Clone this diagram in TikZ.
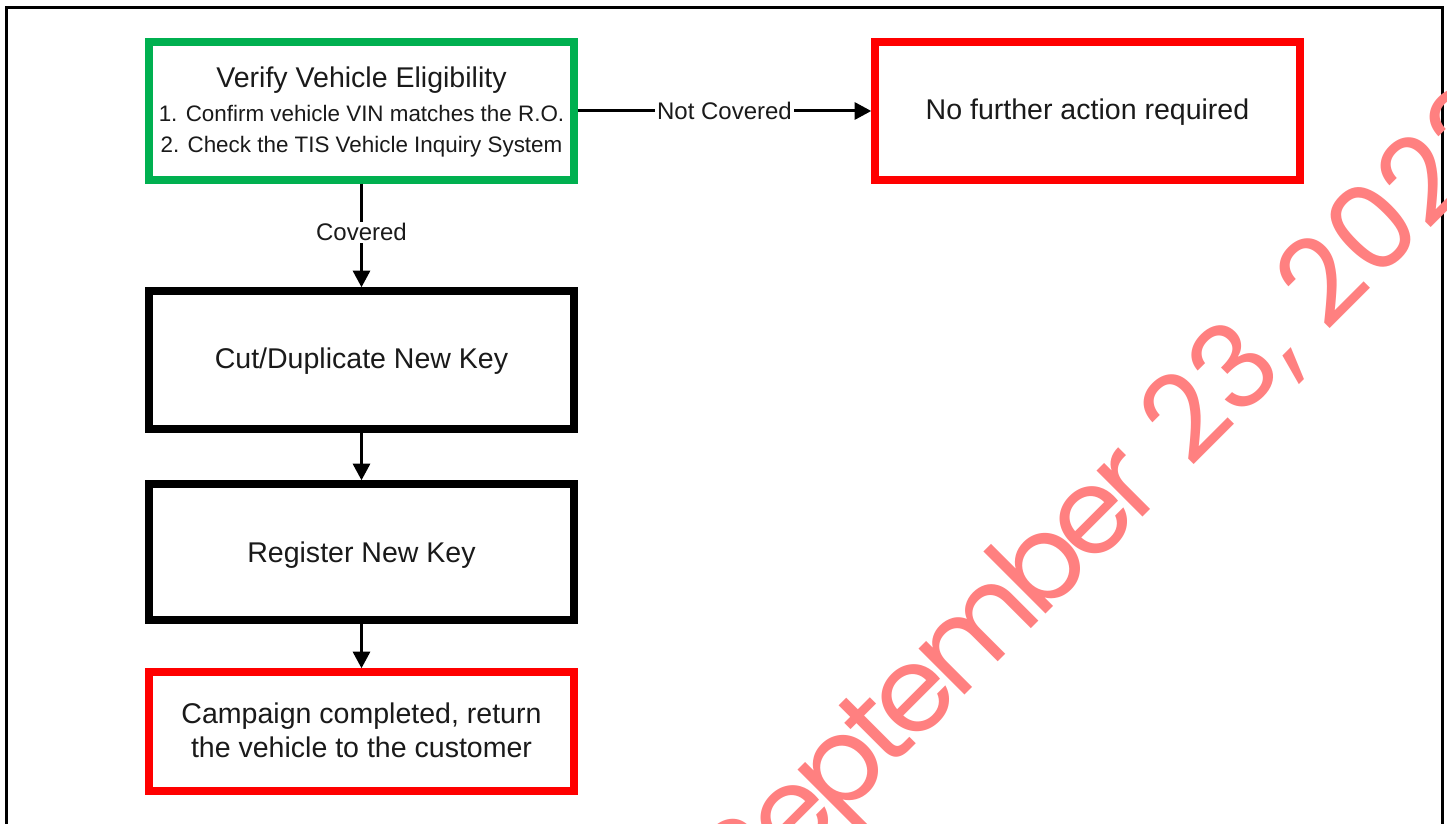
\documentclass[tikz,border=0pt]{standalone}
\usepackage{fontspec}
\setmainfont{Liberation Sans}
\newfontfamily\wmfont{Poppins}
\newfontfamily\wmtight[LetterSpace=-7]{Poppins}
\usetikzlibrary{arrows.meta}
\definecolor{boxgreen}{RGB}{0,176,80}
\definecolor{boxred}{RGB}{255,0,0}
\definecolor{wmred}{RGB}{255,128,128}
\definecolor{txt}{RGB}{26,26,26}
\begin{document}
\begin{tikzpicture}[x=0.75pt,y=-0.75pt,
  box/.style={draw, line width=5.6pt, minimum width=318.75pt, inner sep=0pt, fill=white},
  big/.style={text=txt, inner sep=0pt, font=\fontsize{21.4}{25}\selectfont, anchor=base},
  small/.style={text=txt, inner sep=0pt, font=\fontsize{16.8}{20}\selectfont, anchor=base},
  flow/.style={line width=2.25pt, -{Triangle[width=12.8pt,length=12.5pt]}},
  lbl/.style={fill=white, text=txt, inner sep=1.5pt, font=\fontsize{18}{21}\selectfont}]
\useasboundingbox (0,0) rectangle (1447,824);
\clip (0,0) rectangle (1447,824);
\fill[white] (0,0) rectangle (1447,824);
% frame
\draw[line width=2.25pt] (6,8) rectangle (1442,900);
% boxes
\node[box, draw=boxgreen, minimum height=103.5pt] (verify) at (361.5,111) {};
\node[box, draw=boxred, minimum height=103.5pt] (nofurther) at (1087.5,111) {};
\node[box, draw=black, minimum height=103.5pt] (cut) at (361.5,360) {};
\node[box, draw=black, minimum height=102pt] (register) at (361.5,552) {};
\node[box, draw=boxred, minimum height=89.25pt] (campaign) at (361.5,731.5) {};
% texts
\node[big] (verifyT) at (361.5,88) {Verify Vehicle Eligibility};
\node[small] (verifyA) at (361.5,122) {1. Confirm vehicle VIN matches the R.O.};
\node[small] (verifyB) at (361.5,152) {2. Check the TIS Vehicle Inquiry System};
\node[big] (nofurtherT) at (1087.5,120) {No further action required};
\node[big] (cutT) at (361.5,368) {Cut/Duplicate New Key};
\node[big] (registerT) at (361.5,562) {Register New Key};
\node[big] (campaignA) at (361.5,723) {Campaign completed, return};
\node[big] (campaignB) at (361.5,757) {the vehicle to the customer};
% connectors
\draw[flow] (verify.east) -- node[lbl] (nc) {Not Covered} (nofurther.west);
\draw[flow] (verify.south) -- node[lbl, pos=0.47] (cov) {Covered} (cut.north);
\draw[flow] (cut.south) -- (register.north);
\draw[flow] (register.south) -- (campaign.north);
% watermark
\node[wmred, rotate=45, anchor=base west, inner sep=0pt, font=\wmfont\fontsize{89}{100}\selectfont] (wm) at (747.5,912.5) {{\wmtight\fontsize{89}{100}\selectfont September} 23, 2022};
\end{tikzpicture}
\end{document}
